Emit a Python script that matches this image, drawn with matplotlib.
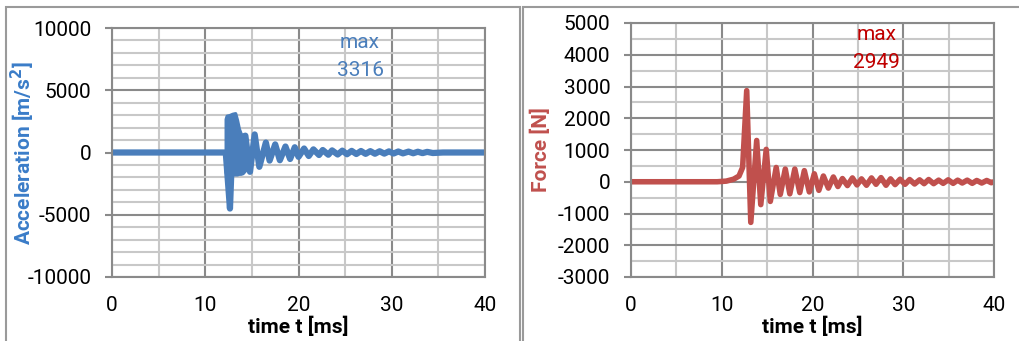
import matplotlib
matplotlib.use('Agg')
import matplotlib.pyplot as plt
from matplotlib.patches import Rectangle

plt.rcParams['font.family'] = ['Roboto', 'DejaVu Sans']
plt.rcParams['axes.unicode_minus'] = False

# acceleration: extrema of the trace
acc_t = [0.0, 12.2, 12.65, 12.8, 13.0, 14.3, 14.8, 15.3, 15.8, 16.5, 16.9, 17.5,
         18.0, 18.6, 19.1, 19.6, 20.0, 20.6, 21.1, 21.6, 22.2, 22.6, 23.2, 23.6,
         24.2, 24.7, 25.2, 25.7, 26.2, 26.7, 27.2, 27.7, 28.2, 28.7, 29.2, 29.7,
         30.2, 30.7, 31.2, 31.8, 32.3, 32.8, 33.3, 33.8, 34.4, 35.5, 40.0]
acc_v = [0, 0, -4500, -1500, 1000, 1350, -1550, 1450, -1150, 800, -650, 650,
         -620, 480, -520, 420, -350, 320, -280, 250, -200, 200, -180, 170,
         -160, 150, -140, 130, -120, 120, -110, 110, -100, 100, -90, 90,
         -80, 80, -70, 70, -60, 60, -50, 50, -40, 0, 0]
# dense high-frequency part just after impact (envelope)
blob_t = [12.2, 12.3, 12.6, 12.9, 13.2, 13.4, 13.6, 13.8, 14.0, 14.3]
blob_hi = [2700, 2950, 3000, 3100, 3150, 2600, 1900, 1500, 1300, 1200]
blob_lo = [-1600, -1700, -1750, -1750, -1750, -1750, -1700, -1700, -1650, -1400]

# force: extrema of the trace
force_t = [0, 9.5, 10.5, 11.3, 11.9, 12.3, 12.75, 13.2, 13.85, 14.3,
           14.9, 15.35, 16.0, 16.45, 17.0, 17.5, 18.05, 18.6, 19.1, 19.65,
           20.2, 20.7, 21.2, 21.75, 22.3, 22.8, 23.3, 23.85, 24.4, 24.9,
           25.4, 25.95, 26.5, 27.0, 27.55, 28.1, 28.6, 29.1, 29.65, 30.2,
           30.7, 31.25, 31.8, 32.3, 32.8, 33.35, 33.9, 34.4, 34.95, 35.5,
           36.0, 36.5, 37.05, 37.6, 38.1, 38.65, 39.2, 39.7, 40.0]
force_v = [0, 0, 20, 80, 180, 450, 2870, -1280, 1300, -720,
           1020, -620, 450, -400, 400, -380, 400, -340, 350, -320,
           250, -270, 180, -200, 150, -150, 100, -120, 120, -100,
           90, -110, 120, -80, 130, -110, 90, -90, 80, -80,
           70, -70, 60, -60, 70, -60, 50, -50, 60, -50,
           50, -40, 50, -50, 40, -40, 40, -30, 0]

acc_max = 3316
force_max = 2949
x_ticks = [0, 10, 20, 30, 40]

blue = '#4a7ebb'
red = '#c0504d'
fs = 15

fig = plt.figure(figsize=(10.19, 3.41), dpi=100)
W, H = 1019, 341

# panel frames
fig.patches.append(Rectangle((6 / W, -0.1), (520 - 6) / W, 1.1 - 7 / H, transform=fig.transFigure,
                             fill=False, edgecolor='#9a9a9a', lw=1.5))
fig.patches.append(Rectangle((523 / W, -0.1), 0.6, 1.1 - 7 / H, transform=fig.transFigure,
                             fill=False, edgecolor='#9a9a9a', lw=1.5))

ax1 = fig.add_axes([112 / W, 1 - 277 / H, (485 - 112) / W, (277 - 28) / H])
ax2 = fig.add_axes([631 / W, 1 - 277 / H, (994 - 631) / W, (277 - 23) / H])


def style(ax, ymin, ymax, ymajor, yminor):
    ax.set_xlim(0, 40)
    ax.set_ylim(ymin, ymax)
    ax.set_xticks(x_ticks)
    ax.set_xticks([5, 15, 25, 35], minor=True)
    ax.set_yticks(range(ymin, ymax + 1, ymajor))
    ax.set_yticks(range(ymin, ymax + 1, yminor), minor=True)
    ax.grid(which='minor', color='#c8c8c8', lw=1.5)
    ax.grid(which='major', color='#8a8a8a', lw=1.5)
    ax.set_axisbelow(True)
    for s in ax.spines.values():
        s.set_color('#8a8a8a')
        s.set_linewidth(1.5)
    ax.tick_params(axis='y', which='major', length=5, width=1.5, color='#8a8a8a',
                   labelsize=fs, pad=10)
    ax.tick_params(axis='y', which='minor', length=0)
    ax.tick_params(axis='x', which='both', length=0, labelsize=fs, pad=14)
    ax.set_xlabel('time t [ms]', fontsize=fs, fontweight='bold', labelpad=1)


style(ax1, -10000, 10000, 5000, 1000)
ax1.fill_between(blob_t, blob_lo, blob_hi, color=blue, lw=2.5, edgecolor=blue)
ax1.plot(acc_t, acc_v, color=blue, lw=4.5, solid_joinstyle='round', solid_capstyle='round')
ax1.set_ylabel('Acceleration [m/s$^\\mathbf{2}$]', fontsize=fs, fontweight='bold', color='#3a7cc8')
ax1.yaxis.set_label_coords(-0.201, 0.5)
ax1.text(26.6, 8800, 'max', color=blue, fontsize=fs, ha='center', va='center')
ax1.text(26.6, 6550, str(acc_max), color=blue, fontsize=fs, ha='center', va='center')

style(ax2, -3000, 5000, 1000, 500)
ax2.plot(force_t, force_v, color=red, lw=4, solid_joinstyle='round', solid_capstyle='round')
ax2.set_ylabel('Force [N]', fontsize=fs, fontweight='bold', color=red)
ax2.yaxis.set_label_coords(-0.22, 0.5)
ax2.text(27.1, 4640, 'max', color='#c00000', fontsize=fs, ha='center', va='center')
ax2.text(27.1, 3760, str(force_max), color='#c00000', fontsize=fs, ha='center', va='center')

fig.savefig('out.png', dpi=100)
